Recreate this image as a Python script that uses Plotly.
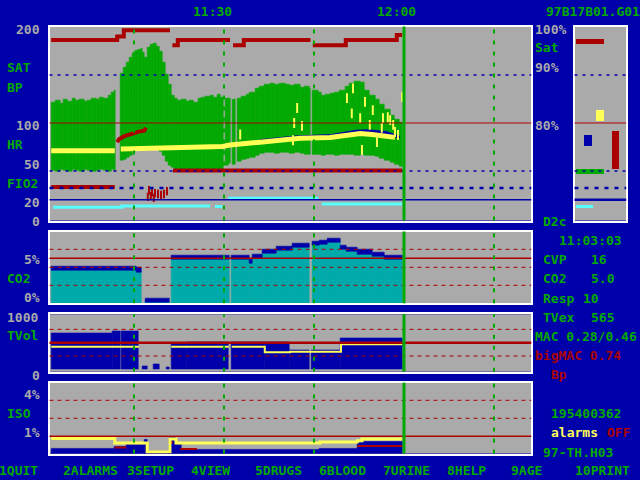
import plotly.graph_objects as go

# ---------------- colours / font ----------------
BG = "#0000AA"; GRAY = "#AAAAAA"; GREEN = "#00AA00"; RED = "#AA0000"
YELLOW = "#FFFF55"; CYAN = "#55FFFF"; TEAL = "#00AAAA"; DBLUE = "#0000AA"; WHITE = "#FFFFFF"
FONT = "DejaVu Sans Mono"

# ---------------- time base (minutes after 11:00) ----------------
grid_dashed_t = [15, 30, 45, 75]
now_t = 60

# ---------------- top panel: BP band, sat, HR, FIO2 ----------------
bp_t = [1.2, 2.0, 2.7, 3.3, 4.0, 4.7, 5.3, 6.0, 6.7, 7.3, 8.0, 8.7, 9.3, 10.0, 10.7, 11.3, 11.8, 12.0,
        12.8, 13.2, 13.7, 14.2, 14.7, 15.2, 15.7, 16.2, 16.5, 16.8, 17.2, 17.7, 18.2, 18.7, 19.2, 19.7,
        20.2, 20.7, 21.2, 21.7, 22.3, 23.0, 23.7, 24.3, 25.0, 25.7, 26.3, 27.0, 27.7, 28.3, 29.0, 29.5,
        29.9, 30.3, 30.8, 31.1, 31.5, 31.9, 32.3, 33.0, 33.7, 34.3, 35.2, 36.0, 36.8, 37.7, 38.5, 39.3,
        40.2, 41.0, 41.8, 42.7, 43.5, 44.2, 44.5, 44.8, 45.7, 46.3, 47.0, 47.7, 48.5, 49.3, 50.2, 51.0,
        51.8, 52.7, 53.5, 54.3, 55.2, 56.0, 56.8, 57.7, 58.5, 59.3, 59.7]
bp_sys = [121, 123, 120, 124, 122, 125, 123, 124, 122, 123, 125, 124, 127, 126, 129, 132, 134, None,
          152, 158, 163, 168, 172, 175, 177, 178, 173, 168, 179, 182, 183, 180, 174, 163,
          150, 140, 129, 125, 123, 124, 122, 123, 121, 125, 127, 128, 129, 127, 130, 127,
          None, 125, 126, None, 124, None, 125, 128, 130, 132, 136, 138, 140, 141, 140, 141,
          140, 139, 140, 137, 138, 136, None, 134, 132, 129, 130, 131, 132, 134, 138, 141,
          143, 142, 134, 129, 124, 119, 114, 108, 104, 100, None]
bp_dia = [51, 50, 52, 51, 50, 52, 51, 50, 52, 51, 50, 51, 52, 51, 50, 52, 51, None,
          61, 62, 64, 66, 70, 73, 74, 74, 73, 73, 74, 74, 73, 72, 70, 66,
          60, 56, 54, 52, 51, 52, 51, 52, 51, 52, 51, 52, 51, 52, 51, 52,
          None, 56, 58, None, 57, None, 60, 62, 63, 64, 66, 68, 69, 69, 68, 69,
          69, 68, 69, 68, 67, 67, None, 67, 67, 66, 67, 67, 66, 67, 67, 67,
          66, 67, 66, 66, 65, 63, 61, 59, 57, 55, None]

sat_t = [1.2, 12.2, 13.3, 21.0, 21.1, 21.4, 22.3, 31.0, 31.2, 31.5, 33.3, 44.4, 44.5, 44.8, 50.3, 58.8, 59.7]
sat_v = [186.5, 190, 196.6, 196.6, None, 181, 186.5, 186.5, None, 181, 186.5, 186.5, None, 181, 186.5, 191.7, 191.7]

hr_t = [1.2, 11.8, 12.0, 12.8, 16.8, 19.3, 29.7, 31.0, 33.5, 36.0, 39.3, 42.7, 47.7, 50.2, 52.7, 54.7, 56.8, 58.5]
hr_v = [71, 71, None, 73, 73.5, 75, 75.5, 77, 78, 80, 82, 84, 85, 86.5, 89, 88, 86, 85]

hr_art_t = [32.7, 41.5, 41.7, 42.2, 43.0, 50.5, 51.3, 51.5, 52.7, 53.0, 53.5, 54.3, 54.8, 55.5,
            56.3, 56.5, 57.3, 57.7, 58.2, 58.5, 59.0, 59.7]
hr_art_v = [88, 82, 100, 115.6, 97, 126, 110, 136, 105, 72, 122, 98, 113.5, 80,
            95, 105, 106, 103, 98, 90.6, 87.5, 127]

pulse_t = [36.0, 42.0, 48.0, 50.5, 52.0, 54.0, 57.0, 59.3]
pulse_v = [81.5, 85.5, 87, 89.5, 91.5, 92, 90, 85]

hr2_t = [12.2, 12.5, 13.3, 14.2, 15.0, 15.8, 16.7, 17.0]
hr2_v = [80, 83, 86, 88, 90, 91, 92, 95]

fio2_t = [1.2, 11.8, 11.9, 21.5, 59.7]
fio2_v = [33.3, 33.3, None, 50.5, 50.5]

fio2_art_t = [17.5, 17.8, 18.0, 18.3, 18.5, 19.0, 19.5, 20.0, 20.5, 17.3]
fio2_art_v = [30, 24, 28, 22, 27, 26, 25, 26, 29, 23]

cyan_t = [1.5, 13.0, 27.7, 27.8, 28.5, 29.7, 29.8, 30.7, 45.7, 45.8, 46.3, 59.7]
cyan_v = [12.3, 13.5, 13.5, None, 13, 13, None, 21.5, 21.5, None, 15.5, 15.5]

top_limits = [150, 100, 50, 32.3, 20]

# ---------------- CO2 panel ----------------
co2_t = [1.2, 15.5, 16.2, 17.0, 21.0, 21.25, 31.0, 31.2, 34.3, 34.8, 36.5, 38.8, 41.5, 44.3, 44.7,
         46.0, 47.2, 49.5, 50.5, 52.3, 54.8, 56.8, 59.7]
co2_v = [3.9, 3.7, None, 0.3, None, 5.1, None, 5.1, 4.6, 5.2, 5.8, 6.1, 6.4, None, 6.6,
         6.8, 7.0, 6.2, 6.0, 5.7, 5.45, 5.1, None]
co2_limits_dash = [2, 4, 6]
co2_limit = 5

# ---------------- TVol panel ----------------
tv_t = [1.2, 11.5, 12.7, 13.0, 15.8, 16.5, 17.2, 18.2, 19.3, 20.5, 21.0, 21.2, 23.7, 30.8, 31.3,
        36.8, 41.0, 44.3, 44.6, 49.5, 59.7]
tv_v = [682, 719, None, 719, None, 50, None, 101, None, 45, None, 476, 505, None, 505,
        500, 350, None, 350, 585, None]
tvex_t = [1.2, 15.8, 16.0, 21.2, 30.8, 31.0, 31.3, 36.8, 41.0, 49.5, 59.7]
tvex_v = [425, 425, None, 425, 425, None, 425, 320, 331, 470, 470]
tv_limits_dash = [250, 750]
tv_limit = 500

# ---------------- ISO panel ----------------
iso_exp_t = [1.2, 11.8, 13.7, 16.8, 17.3, 21.0, 22.0, 23.0, 46.0, 52.2, 59.7]
iso_exp_v = [0.33, 0.4, 0.55, 0.8, 0.1, 0.94, 0.55, 0.24, 0.3, 0.7, None]
iso_in_t = [1.2, 11.8, 17.2, 21.0, 22.0, 46.0, 52.2, 53.0, 59.7]
iso_in_v = [0.88, 0.62, 0.12, 0.85, 0.62, 0.68, 0.75, 0.85, 0.85]
iso_red_t = [11.8, 13.7, 13.8, 21.1, 21.5, 21.6, 22.7, 25.5, 25.6, 52.2, 59.7]
iso_red_v = [0.37, 0.37, None, 0.65, 0.65, None, 0.29, 0.29, None, 0.46, 0.46]
iso_limits_dash = [2, 3]
iso_limit = 1

# ---------------- right indicator panel (current values) ----------------
ind_lo = [183, 103, 77, 53, 47, 12.5]
ind_hi = [188.5, 114.5, 88.5, 91.7, 53, 15.6]
ind_colors = [RED, YELLOW, DBLUE, RED, GREEN, CYAN]
ind_x0 = [0.5, 20.5, 8.5, 36.5, 0.5, 0.5]
ind_x1 = [28.5, 28.5, 16.5, 43.5, 28.5, 17.5]

fig = go.Figure()


def seg_bars(t, top, bottom=None, band=None):
    xs, ws, ys, bs = [], [], [], []
    for i in range(len(t) - 1):
        if top[i] is None:
            continue
        if band is not None:
            b = top[i] - band / 2
            h = band
        else:
            b = 0 if bottom is None else bottom[i]
            h = top[i] - b
        xs.append(t[i]); ws.append(t[i + 1] - t[i]); ys.append(h); bs.append(b)
    return xs, ws, ys, bs


def add_bars(t, top, color, xa, ya, bottom=None, band=None):
    xs, ws, ys, bs = seg_bars(t, top, bottom, band)
    fig.add_trace(go.Bar(x=xs, y=ys, base=bs, width=ws, offset=0,
                         marker=dict(color=color, line=dict(color=color, width=0.6)),
                         xaxis=xa, yaxis=ya, hoverinfo="skip"))


def add_line(t, v, color, width, xa, ya, shape="hv"):
    fig.add_trace(go.Scatter(x=t, y=v, mode="lines", line=dict(color=color, width=width, shape=shape),
                             connectgaps=False, xaxis=xa, yaxis=ya, hoverinfo="skip"))


def add_ticks(t, v, color, size, xa, ya):
    fig.add_trace(go.Scatter(x=t, y=v, mode="markers",
                             marker=dict(symbol="line-ns", size=size, line=dict(color=color, width=2)),
                             xaxis=xa, yaxis=ya, hoverinfo="skip"))


# top panel
add_bars(bp_t, bp_sys, GREEN, "x", "y", bottom=bp_dia)
add_line(sat_t, sat_v, RED, 4, "x", "y")
add_line(fio2_t, fio2_v, RED, 4, "x", "y")
add_ticks(fio2_art_t, fio2_art_v, RED, 6, "x", "y")
add_line(cyan_t, cyan_v, CYAN, 3, "x", "y")
add_line(pulse_t, pulse_v, DBLUE, 3, "x", "y", shape="linear")
add_line(hr_t, hr_v, YELLOW, 5, "x", "y", shape="linear")
add_ticks(hr_art_t, hr_art_v, YELLOW, 7, "x", "y")
add_line(hr2_t, hr2_v, RED, 4, "x", "y", shape="linear")

# CO2 panel
add_bars(co2_t, co2_v, TEAL, "x2", "y2")
add_bars(co2_t, co2_v, DBLUE, "x2", "y2", band=0.45)

# TVol panel
add_bars(tv_t, tv_v, DBLUE, "x3", "y3")
add_line(tvex_t, tvex_v, YELLOW, 2, "x3", "y3")

# ISO panel
add_bars(iso_exp_t, iso_exp_v, DBLUE, "x4", "y4")
add_line(iso_red_t, iso_red_v, RED, 2, "x4", "y4")
add_line(iso_in_t, iso_in_v, YELLOW, 3, "x4", "y4")

# right panel indicators
fig.add_trace(go.Bar(x=ind_x0, y=[h - l for h, l in zip(ind_hi, ind_lo)], base=ind_lo,
                     width=[b - a for a, b in zip(ind_x0, ind_x1)], offset=0,
                     marker=dict(color=ind_colors, line=dict(width=0)),
                     xaxis="x5", yaxis="y5", hoverinfo="skip"))

# ---------------- shapes ----------------
def hline(y, xref, yref, color, width, dash="solid"):
    fig.add_shape(type="line", xref=xref, yref=yref, x0=0, x1=1, y0=y, y1=y,
                  line=dict(color=color, width=width, dash=dash), layer="above")


for xr in ["x domain", "x5 domain"]:
    yr = "y" if xr == "x domain" else "y5"
    hline(top_limits[0], xr, yr, DBLUE, 1.3, "3px,5px")
    hline(top_limits[1], xr, yr, RED, 1)
    hline(top_limits[2], xr, yr, DBLUE, 1.3, "3px,5px")
    hline(top_limits[3], xr, yr, DBLUE, 2.5, "4px,6px")
    hline(top_limits[4], xr, yr, DBLUE, 1.5 if xr == "x domain" else 2.5)

for v in co2_limits_dash:
    hline(v, "x2 domain", "y2", RED, 1, "4px,4px")
hline(co2_limit, "x2 domain", "y2", RED, 1.5)
for v in tv_limits_dash:
    hline(v, "x3 domain", "y3", RED, 1, "4px,4px")
hline(tv_limit, "x3 domain", "y3", RED, 2.5)
for v in iso_limits_dash:
    hline(v, "x4 domain", "y4", RED, 1, "4px,4px")
hline(iso_limit, "x4 domain", "y4", RED, 1.5)

for xr, yr in [("x", "y domain"), ("x2", "y2 domain"), ("x3", "y3 domain"), ("x4", "y4 domain")]:
    for t in grid_dashed_t:
        fig.add_shape(type="line", xref=xr, yref=yr, x0=t, x1=t, y0=0, y1=1,
                      line=dict(color=GREEN, width=2, dash="4px,7px"), layer="above")
    fig.add_shape(type="line", xref=xr, yref=yr, x0=now_t, x1=now_t, y0=0, y1=1,
                  line=dict(color=GREEN, width=3), layer="above")

# ---------------- texts ----------------
texts = [
    (212, 11, "11:30", GREEN, "center"), (396, 11, "12:00", GREEN, "center"),
    (640, 11, "97B17B01.G01", GREEN, "right"),
    (40, 29, "200", GRAY, "right"), (7, 68, "SAT", GREEN, "left"), (7, 87, "BP", GREEN, "left"),
    (40, 125, "100", GRAY, "right"), (7, 144, "HR", GREEN, "left"), (40, 164, "50", GRAY, "right"),
    (7, 183, "FIO2", GREEN, "left"), (40, 202, "20", GRAY, "right"), (40, 221, "0", GRAY, "right"),
    (40, 259, "5%", GRAY, "right"), (7, 278, "CO2", GREEN, "left"), (40, 297, "0%", GRAY, "right"),
    (7, 317, "1000", GRAY, "left"), (7, 335, "TVol", GREEN, "left"), (40, 375, "0", GRAY, "right"),
    (40, 394, "4%", GRAY, "right"), (7, 413, "ISO", GREEN, "left"), (40, 432, "1%", GRAY, "right"),
    (535, 29, "100%", GRAY, "left"), (535, 48, "Sat", GREEN, "left"), (535, 68, "90%", GRAY, "left"),
    (535, 125, "80%", GRAY, "left"), (543, 221, "D2c", GREEN, "left"),
    (559, 240, "11:03:03", GREEN, "left"),
    (543, 259, "CVP", GREEN, "left"), (591, 259, "16", GREEN, "left"),
    (543, 278, "CO2", GREEN, "left"), (591, 278, "5.0", GREEN, "left"),
    (543, 298, "Resp", GREEN, "left"), (583, 298, "10", GREEN, "left"),
    (543, 317, "TVex", GREEN, "left"), (591, 317, "565", GREEN, "left"),
    (535, 336, "MAC 0.28/0.46", GREEN, "left"), (535, 355, "bigMAC 0.74", RED, "left"),
    (551, 374, "Bp", RED, "left"),
    (551, 413, "195400362", GREEN, "left"), (551, 432, "alarms", YELLOW, "left"),
    (607, 432, "OFF", RED, "left"), (543, 452, "97-TH.H03", GREEN, "left"),
]
menu = ["1QUIT", "2ALARMS", "3SETUP", "4VIEW", "5DRUGS", "6BLOOD", "7URINE", "8HELP", "9AGE", "10PRINT"]
for i, m in enumerate(menu):
    texts.append((i * 64 - 1, 470, m, GREEN, "left"))

for x, y, s, c, a in texts:
    fig.add_annotation(x=x / 640, y=1 - y / 480, xref="paper", yref="paper", text=s, showarrow=False,
                       xanchor=a, yanchor="middle", borderpad=0, borderwidth=0,
                       font=dict(family=FONT, size=13, color=c, weight="bold"))

# ---------------- axes ----------------
def xa(dom, rng):
    return dict(domain=[dom[0] / 640, dom[1] / 640], range=rng, showgrid=False, zeroline=False,
                showticklabels=False, ticks="", showline=True, linecolor=WHITE, linewidth=2,
                mirror=True, fixedrange=True)


def ya(dom, rng):
    return dict(domain=[1 - dom[1] / 480, 1 - dom[0] / 480], range=rng, showgrid=False, zeroline=False,
                showticklabels=False, ticks="", showline=True, linecolor=WHITE, linewidth=2,
                mirror=True, fixedrange=True)


XR = [0.92, 81.22]
XD = [49.5, 531.3]
fig.update_layout(
    width=640, height=480, margin=dict(l=0, r=0, t=0, b=0),
    paper_bgcolor=BG, plot_bgcolor=GRAY, showlegend=False, barmode="overlay", bargap=0,
    xaxis=dict(xa(XD, XR), anchor="y"), yaxis=dict(ya([26.5, 220.5], [-1.56, 200.5]), anchor="x"),
    xaxis2=dict(xa(XD, XR), anchor="y2"), yaxis2=dict(ya([231.5, 303.3], [0, 7.98]), anchor="x2"),
    xaxis3=dict(xa(XD, XR), anchor="y3"), yaxis3=dict(ya([314.3, 371.7], [-43, 1032]), anchor="x3"),
    xaxis4=dict(xa(XD, XR), anchor="y4"), yaxis4=dict(ya([382.7, 453.5], [0.04, 3.98]), anchor="x4"),
    xaxis5=dict(xa([574.5, 626.2], [0, 51.7]), anchor="y5"),
    yaxis5=dict(ya([26.5, 220.5], [-1.56, 200.5]), anchor="x5"),
)

fig.write_html("out.html", config={"displayModeBar": False},
               post_script="document.body.style.margin='0';document.body.style.padding='0';"
                           "document.body.style.background='#0000AA';")
